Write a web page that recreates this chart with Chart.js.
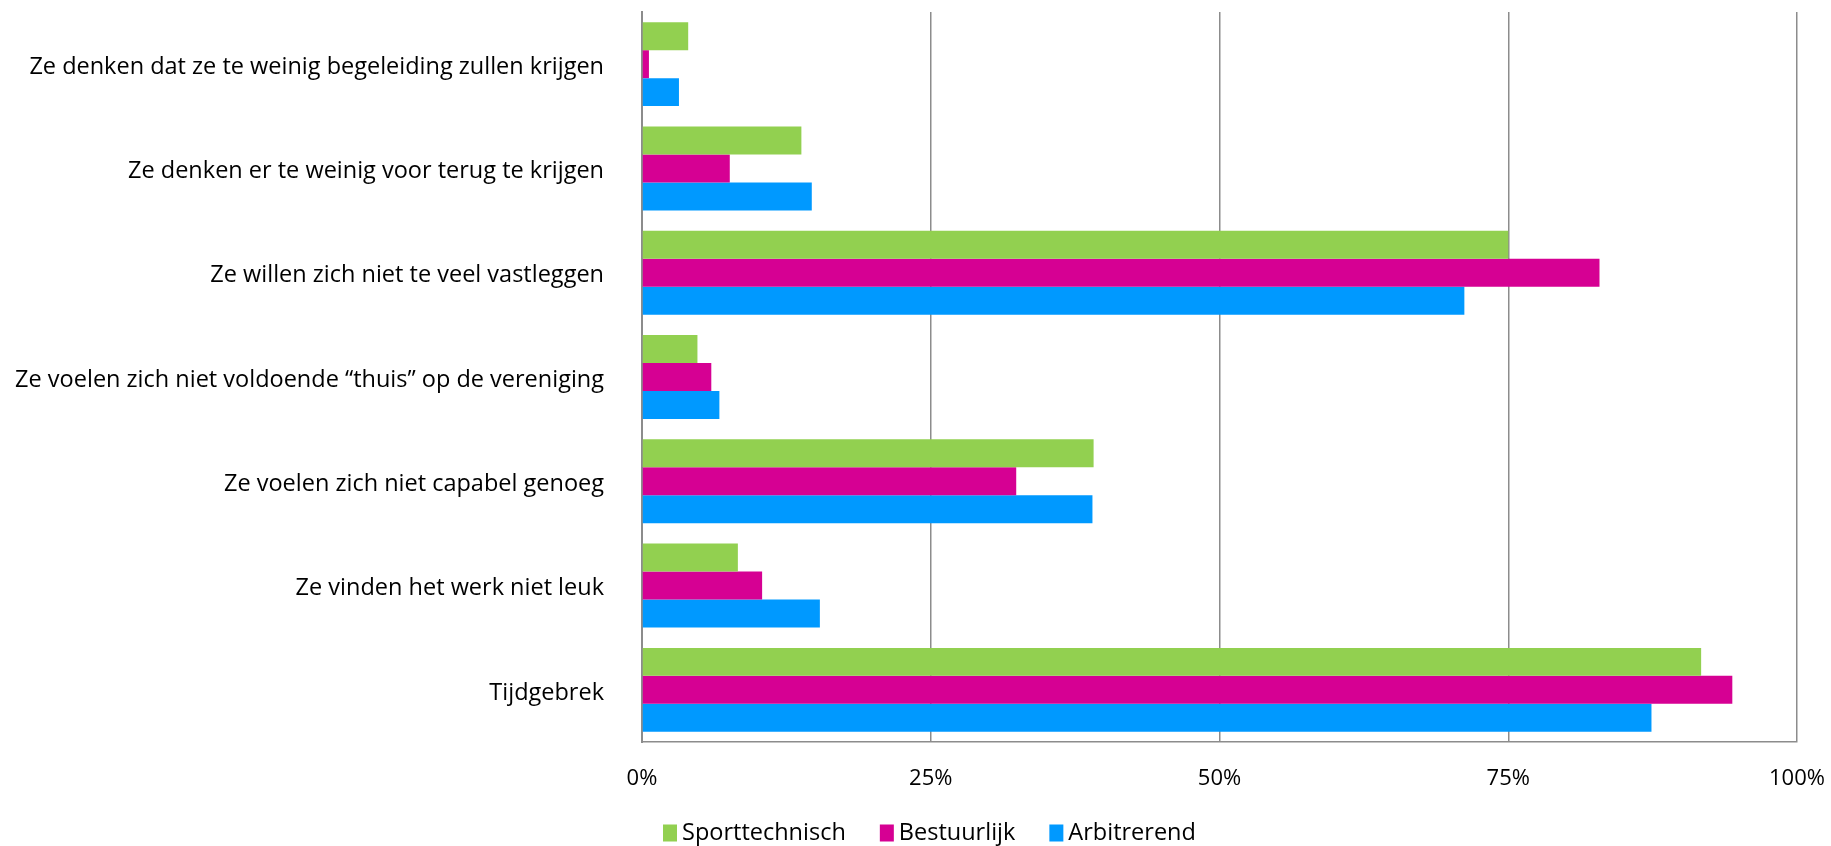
<!DOCTYPE html>
<html>
<head>
<meta charset="utf-8">
<script src="https://cdn.jsdelivr.net/npm/chart.js@4"></script>
<style>
    html, body { margin: 0; padding: 0; background: #fff; }
    #wrap { width: 1831px; height: 846px; position: relative; }
</style>
</head>
<body>
<div id="wrap"><canvas id="reasonsChart"></canvas></div>
<script>
// Chart data
const categories = [
    'Ze denken dat ze te weinig begeleiding zullen krijgen',
    'Ze denken er te weinig voor terug te krijgen',
    'Ze willen zich niet te veel vastleggen',
    'Ze voelen zich niet voldoende \u201Cthuis\u201D op de vereniging',
    'Ze voelen zich niet capabel genoeg',
    'Ze vinden het werk niet leuk',
    'Tijdgebrek'
];
const seriesNames = ['Sporttechnisch', 'Bestuurlijk', 'Arbitrerend'];
const sporttechnisch = [4.0, 13.8, 75.0, 4.8, 39.1, 8.3, 91.7];
const bestuurlijk = [0.6, 7.6, 82.9, 6.0, 32.4, 10.4, 94.4];
const arbitrerend = [3.2, 14.7, 71.2, 6.7, 39.0, 15.4, 87.4];
const xTicks = [0, 25, 50, 75, 100];

const colors = ['#92D050', '#D60093', '#0099FF'];
const gridColor = '#8c8c8c';
const fontFamily = '"Open Sans", Lato, sans-serif';
const labelSize = 23.5;
const tickSize = 22;

// Legend drawn below the plot, left aligned like the original
const bottomLegend = {
    id: 'bottomLegend',
    afterDraw(chart) {
        const c = chart.ctx;
        const y = 833;
        let x = 663;
        c.save();
        c.font = labelSize + 'px ' + fontFamily;
        c.textBaseline = 'middle';
        c.textAlign = 'left';
        chart.data.datasets.forEach(ds => {
            c.fillStyle = ds.backgroundColor;
            c.fillRect(x, y - 8.5, 14, 17);
            c.fillStyle = '#000';
            c.fillText(ds.label, x + 19, y);
            x += 19 + c.measureText(ds.label).width + 34;
        });
        c.restore();
    }
};

// Keep the plot area where the original has it
function noPadding(scale) {
    scale.paddingTop = 0;
    scale.paddingBottom = 0;
    scale.paddingLeft = 0;
    scale.paddingRight = 0;
}

const ctx = document.getElementById('reasonsChart').getContext('2d');
new Chart(ctx, {
    type: 'bar',
    data: {
        labels: categories,
        datasets: [sporttechnisch, bestuurlijk, arbitrerend].map((values, i) => ({
            label: seriesNames[i],
            data: values,
            backgroundColor: colors[i],
            borderWidth: 0,
            categoryPercentage: 0.805,
            barPercentage: 1.0
        }))
    },
    options: {
        indexAxis: 'y',
        responsive: true,
        maintainAspectRatio: false,
        animation: false,
        layout: {
            padding: { top: 12, right: 34, left: 0, bottom: 0 }
        },
        plugins: {
            legend: { display: false },
            tooltip: { enabled: false }
        },
        scales: {
            x: {
                min: 0,
                max: 100,
                afterBuildTicks(scale) {
                    scale.ticks = xTicks.map(v => ({ value: v }));
                },
                afterFit(scale) {
                    scale.height = 846 - 742;
                    noPadding(scale);
                },
                ticks: {
                    padding: 24,
                    color: '#000',
                    font: { family: fontFamily, size: tickSize },
                    callback: value => value + '%'
                },
                grid: { color: gridColor, lineWidth: 1.5, drawTicks: false },
                border: { display: true, color: gridColor, width: 1.5 }
            },
            y: {
                afterFit(scale) {
                    scale.width = 642;
                    noPadding(scale);
                },
                ticks: {
                    padding: 38,
                    labelOffset: 3,
                    color: '#000',
                    font: { family: fontFamily, size: labelSize }
                },
                grid: { display: false, drawTicks: false },
                border: { display: true, color: gridColor, width: 2 }
            }
        }
    },
    plugins: [bottomLegend]
});
</script>
</body>
</html>
